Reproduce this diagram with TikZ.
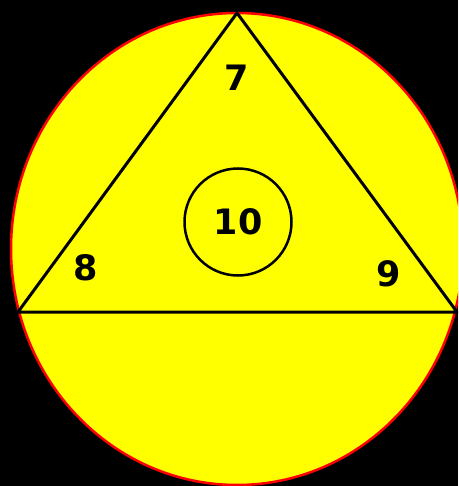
\documentclass[tikz,border=0pt]{standalone}
\usepackage{fontspec}
\setmainfont{DejaVu Sans}
\definecolor{bgyellow}{RGB}{255,255,0}
\definecolor{rimred}{RGB}{255,0,0}
\begin{document}
\begin{tikzpicture}[x=1pt,y=-1pt,
  lbl/.style={font=\bfseries\fontsize{35}{35}\selectfont, text=black, inner sep=0pt},
  edge/.style={draw=black, line width=3pt, line join=miter}]
\fill[black] (0,0) rectangle (458,486);
\useasboundingbox (0,0) rectangle (458,486);
\begin{scope}
\clip (0,0) rectangle (458,486);
\filldraw[fill=bgyellow, draw=rimred, line width=2.5pt] (237,249) ellipse [x radius=226, y radius=236];
\coordinate (A) at (237,13);
\coordinate (B) at (18,312);
\coordinate (C) at (457,312);
\draw[edge] (A) -- (B) -- (C) -- cycle;
\node[draw=black, line width=2.5pt, circle, minimum size=107pt, inner sep=0pt] (c) at (238,222) {};
\node[lbl] (n7) at (237,78) {7};
\node[lbl] (n8) at (86,268) {8};
\node[lbl] (n9) at (389,274) {9};
\node[lbl] (n10) at (c.center) {10};
\end{scope}
\end{tikzpicture}
\end{document}
